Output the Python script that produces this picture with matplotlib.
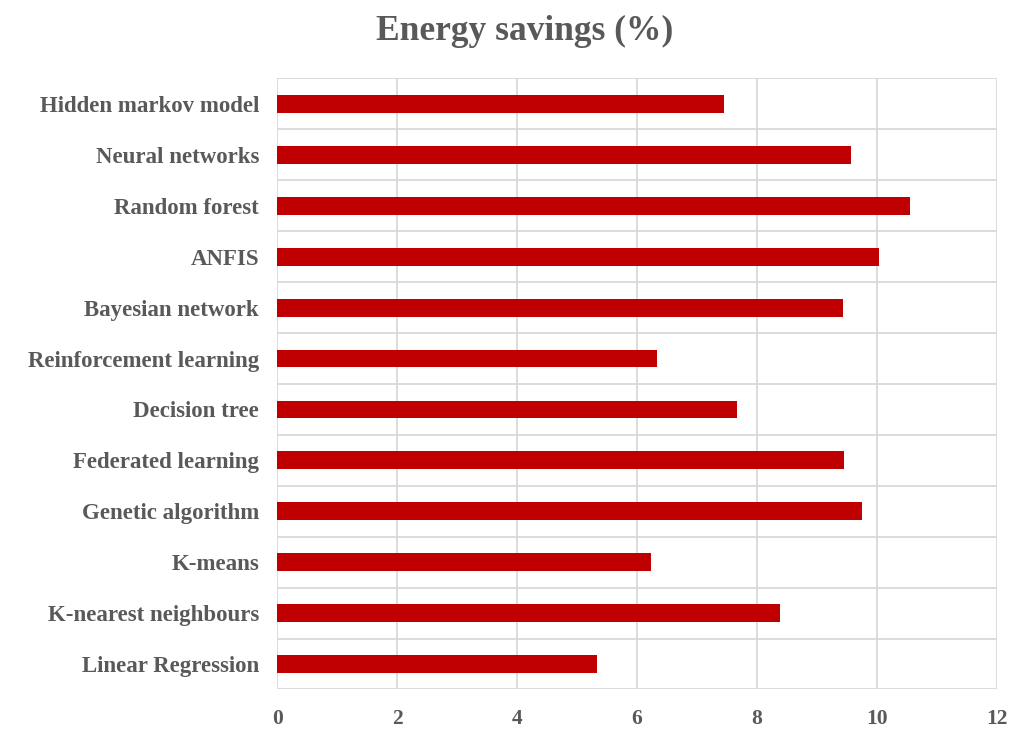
import numpy as np
import matplotlib.pyplot as plt

methods = ['Hidden markov model', 'Neural networks', 'Random forest', 'ANFIS',
           'Bayesian network', 'Reinforcement learning', 'Decision tree',
           'Federated learning', 'Genetic algorithm', 'K-means',
           'K-nearest neighbours', 'Linear Regression']
savings = [7.45, 9.57, 10.55, 10.03, 9.43, 6.33, 7.67, 9.45, 9.75, 6.23, 8.38, 5.33]
xticks = [0, 2, 4, 6, 8, 10, 12]

plt.rcParams['font.family'] = ['Liberation Serif', 'DejaVu Serif']
text_color = '#595959'
grid_color = '#d9d9d9'

fig = plt.figure(figsize=(10.15, 7.3), dpi=100)
ax = fig.add_axes([0.273, 0.0555, 0.709, 0.837])

y = np.arange(len(methods))[::-1]
ax.barh(y, savings, height=0.35, color='#c00000', zorder=3)

ax.set_xlim(0, 12)
ax.set_ylim(-0.5, len(methods) - 0.5)
ax.set_xticks(xticks)
ax.set_xticklabels([str(t) for t in xticks], fontsize=15.5, fontweight='bold', color=text_color)
ax.set_yticks(y)
ax.set_yticklabels(methods, fontsize=16.5, fontweight='bold', color=text_color)
ax.tick_params(length=0, pad=14)
ax.tick_params(axis='y', pad=13)

# cell borders between categories
ax.set_yticks(np.arange(-0.5, len(methods), 1), minor=True)
ax.grid(axis='x', color=grid_color, linewidth=1.3, zorder=0)
ax.grid(axis='y', which='minor', color=grid_color, linewidth=1.3, zorder=0)
ax.tick_params(which='minor', length=0)
for s in ax.spines.values():
    s.set_visible(False)

fig.suptitle('Energy savings (%)', x=0.517, y=0.98, fontsize=25.5,
             fontweight='bold', color=text_color)

fig.savefig('out.png', dpi=100)
